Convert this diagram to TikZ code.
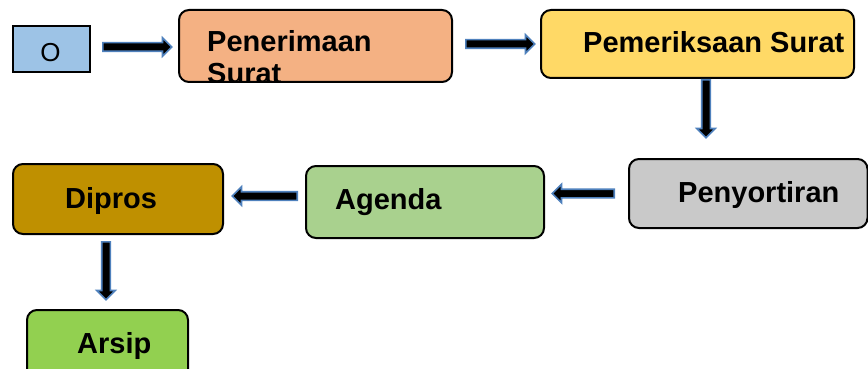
\documentclass[tikz,border=0pt]{standalone}
\usepackage{fontspec}
\setmainfont{Liberation Sans}
\usetikzlibrary{shapes.arrows}
\definecolor{cO}{HTML}{9DC3E6}
\definecolor{cPen}{HTML}{F4B183}
\definecolor{cPem}{HTML}{FFD966}
\definecolor{cPny}{HTML}{C9C9C9}
\definecolor{cAg}{HTML}{A9D18E}
\definecolor{cDip}{HTML}{BF9000}
\definecolor{cAr}{HTML}{92D050}
\definecolor{arrowblue}{HTML}{4F81BD}
\tikzset{
  box/.style={draw=black, line width=2pt, rounded corners=10pt, inner sep=0pt, anchor=north west},
  lbl/.style={inner sep=0pt, anchor=base west, font=\fontsize{29}{32}\selectfont\bfseries},
  barrow/.style={single arrow, draw=arrowblue, fill=black, line width=1.6pt,
    single arrow head extend=5pt, single arrow head indent=0pt,
    inner xsep=0pt, inner ysep=3.5pt, minimum height=#1, anchor=tail}
}
\begin{document}
\begin{tikzpicture}[x=1pt,y=-1pt]
\clip (0,0) rectangle (868,369);
% boxes
\node[box, rounded corners=0pt, fill=cO, minimum width=77pt, minimum height=46pt] (o) at (12,25) {};
\node[box, fill=cPen, minimum width=273pt, minimum height=72pt] (pen) at (178,9) {};
\node[box, fill=cPem, minimum width=313pt, minimum height=68pt] (pem) at (540,9) {};
\node[box, fill=cPny, minimum width=238.5pt, minimum height=69pt] (pny) at (628,158) {};
\node[box, fill=cAg, minimum width=238pt, minimum height=72pt] (ag) at (305,165) {};
\node[box, fill=cDip, minimum width=210pt, minimum height=70pt] (dip) at (12,163) {};
\node[box, fill=cAr, minimum width=161pt, minimum height=72pt] (ar) at (26,309) {};
% labels
\node[inner sep=0pt, anchor=base, font=\fontsize{26}{30}\selectfont] (tO) at (50.5,62) {O};
\begin{scope}
  \clip[rounded corners=10pt] (pen.north west) rectangle (pen.south east);
  \node[lbl] (tPen1) at (207,52) {Penerimaan};
  \node[lbl] (tPen2) at (207,84) {Surat};
\end{scope}
\node[lbl] (tPem) at (583,53) {Pemeriksaan Surat};
\node[lbl] (tPny) at (678,202) {Penyortiran};
\node[lbl] (tAg) at (335,209) {Agenda};
\node[lbl] (tDip) at (65,208) {Dipros};
\node[lbl] (tAr) at (77,353) {Arsip};
% block arrows
\node[barrow=69pt] (a1) at ([shift={(11,-2)}]o.east) {};
\node[barrow=69pt] (a2) at ([shift={(12,-2)}]pen.east) {};
\node[barrow=58pt, rotate=-90] (a3) at ([shift={(8.5,0)}]pem.south) {};
\node[barrow=62pt, rotate=180] (a4) at ([shift={(-13,0)}]pny.west) {};
\node[barrow=65pt, rotate=180] (a5) at ([shift={(-7,-6)}]ag.west) {};
\node[barrow=58pt, rotate=-90] (a6) at ([shift={(-12,6)}]dip.south) {};
\end{tikzpicture}
\end{document}
